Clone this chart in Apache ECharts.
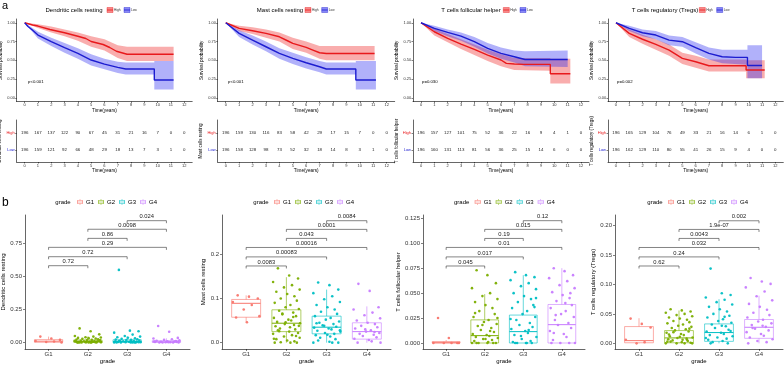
<!DOCTYPE html>
<html>
<head>
<meta charset="utf-8">
<script src="https://cdn.jsdelivr.net/npm/echarts@6/dist/echarts.min.js"></script>
</head>
<body style="margin:0; background:#fff">
<div id="main" style="width:784px;height:365px"></div>
<script>
// ---------- panel a : survival curves ----------
var kmNames = ['Dendritic cells resting', 'Mast cells resting', 'T cells follicular helper', 'T cells regulatory (Tregs)'];
var kmP = ['p<0.001', 'p<0.001', 'p=0.030', 'p=0.002'];
var yearTicks = [0, 1, 2, 3, 4, 5, 6, 7, 8, 9, 10, 11, 12];
var survTicks = [0, 0.25, 0.5, 0.75, 1];

// [time, survival]
var kmHigh = [
  [[0,1],[0.6,0.97],[1,0.956],[1.9,0.91],[3,0.867],[4,0.82],[4.6,0.79],[5,0.75],[5.9,0.71],[6.4,0.67],[6.9,0.62],[7.7,0.58],[11.2,0.58]],
  [[0,1],[1,0.925],[2,0.893],[3,0.858],[4,0.813],[4.6,0.76],[5,0.725],[6,0.672],[6.5,0.636],[7,0.6],[7.5,0.59],[11.1,0.59]],
  [[0,1],[1,0.88],[2,0.791],[3,0.716],[4,0.644],[5,0.569],[6,0.503],[6.4,0.459],[7,0.45],[7.7,0.445],[9.7,0.445],[9.7,0.32],[11.2,0.32]],
  [[0,1],[1,0.858],[2,0.78],[3,0.711],[4,0.636],[5,0.525],[6,0.48],[7,0.427],[9.8,0.427],[9.8,0.37],[11.2,0.37]]
];
var kmLow = [
  [[0,1],[0.25,0.95],[0.6,0.9],[1,0.836],[2,0.747],[3,0.667],[4,0.592],[5,0.503],[6,0.449],[7,0.405],[7.6,0.383],[9.75,0.383],[9.75,0.236],[11.2,0.236]],
  [[0,1],[1,0.858],[2,0.769],[3,0.68],[4,0.592],[5,0.525],[6,0.467],[7,0.413],[7.5,0.383],[9.7,0.383],[9.7,0.236],[11.2,0.236]],
  [[0,1],[1,0.925],[2,0.871],[3,0.822],[4,0.747],[5,0.658],[6,0.592],[7,0.547],[7.8,0.51],[11,0.51]],
  [[0,1],[1,0.925],[2,0.867],[3,0.836],[4,0.769],[5,0.747],[6,0.667],[7,0.592],[8,0.547],[9,0.538],[9.9,0.538],[9.9,0.43],[11,0.43]]
];
// [time, lower, upper]
var bandHigh = [
  [[0,1,1],[1,0.93,0.98],[2,0.87,0.95],[3,0.82,0.91],[4,0.76,0.87],[5,0.68,0.82],[6,0.63,0.78],[7,0.53,0.7],[7.7,0.49,0.68],[11.2,0.49,0.68]],
  [[0,1,1],[1,0.89,0.96],[2,0.85,0.94],[3,0.8,0.91],[4,0.75,0.87],[5,0.65,0.8],[6,0.6,0.75],[7,0.52,0.69],[7.5,0.5,0.69],[11.1,0.5,0.69]],
  [[0,1,1],[1,0.83,0.92],[2,0.74,0.85],[3,0.65,0.78],[4,0.57,0.71],[5,0.49,0.64],[6,0.42,0.58],[7,0.37,0.53],[9.7,0.36,0.53],[9.7,0.19,0.52],[11.2,0.19,0.52]],
  [[0,1,1],[1,0.81,0.91],[2,0.72,0.84],[3,0.64,0.78],[4,0.56,0.71],[5,0.45,0.6],[6,0.4,0.56],[7,0.35,0.51],[9.8,0.35,0.51],[9.8,0.26,0.5],[11.2,0.26,0.5]]
];
var bandLow = [
  [[0,1,1],[1,0.79,0.88],[2,0.69,0.8],[3,0.6,0.73],[4,0.52,0.66],[5,0.43,0.58],[6,0.38,0.52],[7,0.33,0.48],[7.6,0.31,0.47],[9.75,0.31,0.47],[9.75,0.11,0.49],[11.2,0.11,0.49]],
  [[0,1,1],[1,0.81,0.9],[2,0.71,0.83],[3,0.62,0.75],[4,0.52,0.66],[5,0.45,0.6],[6,0.39,0.54],[7,0.34,0.49],[7.5,0.31,0.47],[9.7,0.31,0.47],[9.7,0.11,0.49],[11.2,0.11,0.49]],
  [[0,1,1],[1,0.89,0.96],[2,0.82,0.91],[3,0.76,0.87],[4,0.68,0.81],[5,0.59,0.73],[6,0.52,0.67],[7,0.47,0.63],[7.8,0.42,0.62],[11,0.41,0.63]],
  [[0,1,1],[1,0.89,0.96],[2,0.82,0.91],[3,0.78,0.89],[4,0.7,0.83],[5,0.68,0.81],[6,0.59,0.74],[7,0.51,0.67],[8,0.46,0.64],[9.9,0.44,0.64],[9.9,0.26,0.7],[11,0.26,0.7]]
];
// numbers at risk, years 0..12
var riskHigh = [
  [196,167,137,122,90,67,45,31,21,16,7,0,0],
  [196,159,130,116,83,58,42,29,17,15,7,0,0],
  [196,157,127,101,75,52,36,22,16,9,4,1,0],
  [196,165,129,104,76,49,33,21,16,14,6,1,0]
];
var riskLow = [
  [196,159,121,92,66,48,29,18,13,7,3,1,0],
  [196,158,128,98,73,52,32,18,14,8,3,1,0],
  [196,160,131,113,81,56,36,25,15,14,6,0,0],
  [196,162,129,110,80,55,41,26,15,9,4,0,0]
];

// ---------- panel b : boxplots by grade ----------
var gradeNames = ['G1', 'G2', 'G3', 'G4'];
// [min, q1, median, q3, max] per grade
var boxStats = [
  [[0,0.002,0.01,0.022,0.045],[0,0.002,0.007,0.02,0.045],[0,0.002,0.007,0.021,0.048],[0,0.001,0.005,0.014,0.032]],
  [[0.046,0.0575,0.089,0.0977,0.107],[0,0.025,0.044,0.0743,0.148],[0,0.02,0.035,0.06,0.12],[0,0.008,0.025,0.045,0.082]],
  [[0,0,0.0003,0.0015,0.003],[0,0,0.0074,0.0232,0.049],[0,0,0.0114,0.028,0.068],[0,0,0.0184,0.0386,0.075]],
  [[0,0.001,0.0046,0.0285,0.0427],[0,0.001,0.0092,0.0217,0.0558],[0,0.0034,0.0183,0.033,0.075],[0,0.0085,0.0273,0.0405,0.081]]
];
var dcPoints = [
  [0.045,0.03,0.02,0.012,0.008,0.004,0],
  [0.107,0.085,0.062,0.05,0.045,0.04,0.038,0.035,0.033,0.03,0.028,0.025,0.022,0.02,0.018,0.016,0.014,0.012,0.01,0.009,0.008,0.007,0.006,0.005,0.004,0.003,0.002,0.001,0,0,0,0,0,0.015,0.011,0.006,0.003,0.002,0.001,0],
  [0.55,0.09,0.085,0.075,0.06,0.05,0.045,0.04,0.036,0.032,0.028,0.025,0.022,0.02,0.018,0.015,0.013,0.011,0.009,0.008,0.007,0.006,0.005,0.004,0.003,0.002,0.001,0,0,0,0,0.012,0.006,0.003,0.001,0],
  [0.125,0.082,0.035,0.03,0.025,0.02,0.016,0.013,0.01,0.008,0.006,0.005,0.004,0.003,0.002,0.001,0,0,0,0.012,0.007,0.003]
];
var mastPoints = [
  [0.107,0.104,0.1,0.092,0.085,0.075,0.06,0.057,0.046],
  [0.168,0.152,0.145,0.137,0.13,0.125,0.12,0.115,0.11,0.105,0.1,0.095,0.09,0.085,0.08,0.076,0.072,0.068,0.064,0.06,0.056,0.052,0.05,0.047,0.044,0.042,0.04,0.037,0.035,0.032,0.03,0.028,0.025,0.022,0.02,0.017,0.014,0.011,0.008,0.005,0.003,0.001,0,0,0,0.046,0.038,0.026,0.058,0.066,0.015,0.009],
  [0.136,0.13,0.12,0.112,0.105,0.098,0.092,0.085,0.08,0.075,0.07,0.065,0.06,0.056,0.052,0.048,0.045,0.042,0.039,0.036,0.034,0.032,0.03,0.027,0.025,0.022,0.02,0.017,0.014,0.011,0.008,0.005,0.002,0,0,0,0.038,0.028,0.044,0.018],
  [0.133,0.117,0.08,0.075,0.068,0.062,0.055,0.05,0.045,0.042,0.038,0.035,0.032,0.028,0.025,0.022,0.02,0.018,0.015,0.012,0.009,0.006,0.003,0,0,0.03,0.024]
];
var tfhPoints = [
  [0.025,0.005,0,0,0,0,0],
  [0.073,0.068,0.06,0.055,0.05,0.047,0.044,0.041,0.038,0.035,0.032,0.029,0.026,0.023,0.021,0.019,0.017,0.015,0.013,0.011,0.009,0.008,0.007,0.006,0.005,0.004,0.003,0.002,0.001,0,0,0,0,0,0,0.012,0.018,0.025,0.03,0.004],
  [0.071,0.068,0.066,0.063,0.06,0.057,0.054,0.05,0.047,0.044,0.041,0.038,0.035,0.032,0.029,0.026,0.023,0.02,0.018,0.016,0.014,0.012,0.01,0.008,0.006,0.004,0.002,0.001,0,0,0,0,0,0.036,0.024,0.013,0.007,0.045],
  [0.075,0.072,0.068,0.065,0.062,0.058,0.055,0.051,0.048,0.045,0.042,0.038,0.035,0.032,0.029,0.026,0.023,0.02,0.018,0.015,0.012,0.009,0.006,0.003,0,0,0,0,0.04,0.028,0.05,0.01]
];
var tregPoints = [
  [0.042,0.033,0.027,0.006,0.002,0],
  [0.058,0.056,0.054,0.052,0.05,0.048,0.046,0.044,0.042,0.04,0.038,0.036,0.034,0.032,0.03,0.028,0.026,0.024,0.022,0.02,0.018,0.016,0.014,0.012,0.01,0.009,0.008,0.007,0.006,0.005,0.004,0.003,0.002,0.001,0,0,0,0,0.015,0.011,0.006,0.019,0.025,0.003],
  [0.127,0.085,0.082,0.078,0.074,0.07,0.066,0.062,0.058,0.054,0.05,0.047,0.044,0.041,0.038,0.035,0.032,0.029,0.026,0.023,0.02,0.018,0.016,0.014,0.012,0.01,0.008,0.006,0.004,0.002,0,0,0.03,0.021,0.009,0.045],
  [0.111,0.105,0.101,0.095,0.088,0.08,0.073,0.067,0.062,0.057,0.052,0.048,0.044,0.04,0.037,0.034,0.031,0.028,0.025,0.022,0.019,0.016,0.013,0.01,0.007,0.004,0.002,0,0.03,0.026]
];
var boxPoints = [dcPoints, mastPoints, tfhPoints, tregPoints];
// horizontal jitter of the dots (grade units)
var jitter = [-0.21,0.07,0.29,-0.33,0.14,-0.06,0.33,-0.25,0.02,0.2,-0.14,0.26,-0.29,0.1,-0.02,0.31,-0.18,0.17,-0.1,0.24,-0.31,0.05,0.12,-0.23,0.34,-0.04,0.19,-0.27,0.09,-0.16,0.22];

// pairwise comparisons, top to bottom
var comparePairs = [[3,4],[2,4],[2,3],[1,4],[1,3],[1,2]];
var compareY = [
  [0.923,0.858,0.789,0.721,0.65,0.582],
  [0.2757,0.2561,0.2357,0.2152,0.1939,0.1734],
  [0.1226,0.1139,0.1048,0.0958,0.0863,0.0772],
  [0.2082,0.1935,0.1782,0.1628,0.1468,0.1314]
];
var compareP = [
  ['0.024','0.0098','0.86','0.29','0.72','0.72'],
  ['0.0084','0.0001','0.043','0.00016','0.00083','0.0083'],
  ['0.12','0.015','0.19','0.01','0.017','0.045'],
  ['0.002','1.9e-07','0.0043','0.032','0.24','0.62']
];
var boxYTicks = [[0,0.25,0.5,0.75],[0,0.1,0.2],[0,0.025,0.05,0.075,0.1,0.125],[0,0.05,0.1,0.15,0.2]];
var boxYDigits = [2, 1, 3, 2];
var boxYMin = [-0.049, -0.0143, -0.006, -0.0096];
var boxYMax = [0.966, 0.2886, 0.1283, 0.218];

// ---------- layout ----------
var FONT = '"Liberation Sans", Arial, sans-serif';
var RED = '#e8191c', BLUE = '#1c1cd0';
var GRADE_COLORS = ['#F8766D', '#7CAE00', '#00BFC4', '#C77CFF'];
var kmLeft = [16.7, 217.7, 413, 608];
var kmWidth = [175.5, 177, 176, 175.3];
var kmTitleX = [74, 280, 471, 665];
var kmKeyX = [107, 305, 503.3, 699.3];
var kmKeyX2 = [124, 321.7, 520, 716.7];
var kmPX = [28, 228, 422, 617];
var bxLeft = [25, 222, 423, 615];
var bxWidth = [165, 169, 162, 168];
var bxNameGap = [16, 12, 21, 17];
var bxLegendX = [77, 274, 474.7, 668];
var bxGradeX = [63, 261, 461.7, 655];
var KEY_PATH = 'path://M0,2H10V8H0Z M1,3V7H9V3Z M1,4.6H9V5.4H1Z M4.6,0H5.4V2H4.6Z M4.6,8H5.4V10H4.6Z';

var grid = [], xAxis = [], yAxis = [], series = [], legend = [], graphic = [];

function axisBase(extra) {
  var a = {
    axisLine: { onZero: false, lineStyle: { color: '#000', width: 0.6 } },
    axisTick: { length: 1.8, lineStyle: { color: '#000', width: 0.5 } },
    axisLabel: { color: '#333', fontFamily: FONT },
    splitLine: { show: false },
    nameTextStyle: { color: '#000', fontFamily: FONT },
    nameLocation: 'middle'
  };
  for (var k in extra) {
    if (a[k] && typeof a[k] === 'object' && !Array.isArray(extra[k])) {
      a[k] = Object.assign({}, a[k], extra[k]);
    } else {
      a[k] = extra[k];
    }
  }
  return a;
}
function addGrid(g) {
  grid.push(Object.assign({ outerBoundsMode: 'none', containLabel: false }, g));
  return grid.length - 1;
}
function text(str, x, y, size, color, align) {
  graphic.push({
    type: 'text', x: x, y: y, silent: true,
    style: { text: str, fontSize: size, fontFamily: FONT, fill: color || '#000', align: align || 'left', verticalAlign: 'middle' }
  });
}

function bandRenderer(rows, fill) {
  return function (params, api) {
    if (params.dataIndex !== 0) return null;
    var top = rows.map(function (r) { return api.coord([r[0], r[2]]); });
    var bottom = rows.map(function (r) { return api.coord([r[0], r[1]]); }).reverse();
    return { type: 'polygon', shape: { points: top.concat(bottom) }, style: { fill: fill } };
  };
}

function renderRisk(params, api) {
  var c = api.coord([api.value(0), api.value(1)]);
  return {
    type: 'text', x: c[0], y: c[1],
    style: { text: String(api.value(2)), fontSize: 4.4, fontFamily: FONT, fill: '#222', align: 'center', verticalAlign: 'middle' }
  };
}

function renderBox(params, api) {
  var x = api.value(0);
  var lo = api.coord([x, api.value(1)]), q1 = api.coord([x, api.value(2)]);
  var md = api.coord([x, api.value(3)]), q3 = api.coord([x, api.value(4)]);
  var hi = api.coord([x, api.value(5)]);
  var half = api.size([0.36, 0])[0];
  var col = api.visual('color');
  return {
    type: 'group', children: [
      { type: 'line', shape: { x1: lo[0], y1: lo[1], x2: q1[0], y2: q1[1] }, style: { stroke: col, lineWidth: 0.6 } },
      { type: 'line', shape: { x1: q3[0], y1: q3[1], x2: hi[0], y2: hi[1] }, style: { stroke: col, lineWidth: 0.6 } },
      { type: 'rect', shape: { x: q3[0] - half, y: q3[1], width: half * 2, height: Math.max(q1[1] - q3[1], 0.6) }, style: { fill: 'none', stroke: col, lineWidth: 0.6 } },
      { type: 'line', shape: { x1: md[0] - half, y1: md[1], x2: md[0] + half, y2: md[1] }, style: { stroke: col, lineWidth: 1 } }
    ]
  };
}

function bracketRenderer(labels) {
  return function (params, api) {
    var a = api.coord([api.value(0), api.value(2)]);
    var b = api.coord([api.value(1), api.value(2)]);
    return {
      type: 'group', children: [
        { type: 'polyline', shape: { points: [[a[0], a[1] + 2.5], [a[0], a[1]], [b[0], b[1]], [b[0], b[1] + 2.5]] }, style: { stroke: '#333', lineWidth: 0.6, fill: null } },
        { type: 'text', x: (a[0] + b[0]) / 2, y: a[1] - 1, style: { text: labels[params.dataIndex], fontSize: 5.8, fontFamily: FONT, fill: '#222', align: 'center', verticalAlign: 'bottom' } }
      ]
    };
  };
}

text('a', 2, 6, 11, '#000');
text('b', 2, 203, 12, '#000');

for (var i = 0; i < 4; i++) {
  // survival plot
  var g = addGrid({ left: kmLeft[i], top: 19, width: kmWidth[i], height: 82.5 });
  xAxis.push(axisBase({
    gridIndex: g, type: 'value', min: -0.6, max: 12.6,
    axisTick: { customValues: yearTicks, length: 1.5 },
    axisLabel: { customValues: yearTicks, fontSize: 4, margin: 1.6 },
    name: 'Time(years)', nameGap: 4.6, nameTextStyle: { fontSize: 4.7 }
  }));
  yAxis.push(axisBase({
    gridIndex: g, type: 'value', min: -0.05, max: 1.05,
    axisTick: { customValues: survTicks, length: 1.5 },
    axisLabel: { customValues: survTicks, fontSize: 4, margin: 1.7, formatter: function (v) { return v.toFixed(2); } },
    name: 'Survival probability', nameGap: 9.4, nameTextStyle: { fontSize: 4.7 }
  }));
  series.push({ type: 'custom', xAxisIndex: g, yAxisIndex: g, data: bandHigh[i], renderItem: bandRenderer(bandHigh[i], 'rgba(240,40,40,0.38)'), z: 1, silent: true });
  series.push({ type: 'custom', xAxisIndex: g, yAxisIndex: g, data: bandLow[i], renderItem: bandRenderer(bandLow[i], 'rgba(40,40,240,0.36)'), z: 1, silent: true });
  series.push({ type: 'line', name: 'High', xAxisIndex: g, yAxisIndex: g, data: kmHigh[i], symbol: 'none', lineStyle: { color: RED, width: 1.4 }, itemStyle: { color: RED }, z: 3 });
  series.push({ type: 'line', name: 'Low', xAxisIndex: g, yAxisIndex: g, data: kmLow[i], symbol: 'none', lineStyle: { color: BLUE, width: 1.4 }, itemStyle: { color: BLUE }, z: 3 });

  text(kmNames[i], kmTitleX[i], 10, 6, '#000', 'center');
  graphic.push({ type: 'rect', shape: { x: kmKeyX[i], y: 7.5, width: 6, height: 5 }, style: { fill: 'rgba(240,40,40,0.55)', stroke: RED, lineWidth: 0.4 }, silent: true });
  graphic.push({ type: 'line', shape: { x1: kmKeyX[i], y1: 10, x2: kmKeyX[i] + 6, y2: 10 }, style: { stroke: RED, lineWidth: 0.8 }, silent: true });
  text('High', kmKeyX[i] + 7, 10, 3.2, '#333');
  graphic.push({ type: 'rect', shape: { x: kmKeyX2[i], y: 7.5, width: 6, height: 5 }, style: { fill: 'rgba(40,40,240,0.55)', stroke: BLUE, lineWidth: 0.4 }, silent: true });
  graphic.push({ type: 'line', shape: { x1: kmKeyX2[i], y1: 10, x2: kmKeyX2[i] + 6, y2: 10 }, style: { stroke: BLUE, lineWidth: 0.8 }, silent: true });
  text('Low', kmKeyX2[i] + 7, 10, 3.2, '#333');
  text(kmP[i], kmPX[i], 81.5, 4.3, '#000');

  // risk table
  var r = addGrid({ left: kmLeft[i], top: 120, width: kmWidth[i], height: 42 });
  xAxis.push(axisBase({
    gridIndex: r, type: 'value', min: -0.6, max: 12.6,
    axisTick: { customValues: yearTicks, length: 1.5 },
    axisLabel: { customValues: yearTicks, fontSize: 4, margin: 1.6 },
    name: 'Time(years)', nameGap: 5.5, nameTextStyle: { fontSize: 4.7 }
  }));
  yAxis.push(axisBase({
    gridIndex: r, type: 'value', min: -0.706, max: 1.765,
    axisTick: { customValues: [0, 1], length: 1.5 },
    axisLabel: {
      customValues: [0, 1], fontSize: 4, margin: 2,
      formatter: function (v) { return v === 1 ? '{h|High}' : '{l|Low}'; },
      rich: { h: { color: RED, fontSize: 4, fontFamily: FONT }, l: { color: BLUE, fontSize: 4, fontFamily: FONT } }
    },
    name: kmNames[i], nameGap: 11, nameTextStyle: { fontSize: 4.5 }
  }));
  var riskRows = yearTicks.map(function (t, k) { return [t, 1, riskHigh[i][k]]; })
    .concat(yearTicks.map(function (t, k) { return [t, 0, riskLow[i][k]]; }));
  series.push({ type: 'custom', xAxisIndex: r, yAxisIndex: r, data: riskRows, renderItem: renderRisk, silent: true });

  // boxplot by grade
  var b = addGrid({ left: bxLeft[i], top: 215, width: bxWidth[i], height: 134 });
  (function (digits) {
    xAxis.push(axisBase({
      gridIndex: b, type: 'value', min: 0.4, max: 4.6,
      axisTick: { customValues: [1, 2, 3, 4], length: 2 },
      axisLabel: { customValues: [1, 2, 3, 4], fontSize: 6, margin: 2.5, formatter: function (v) { return gradeNames[v - 1]; } },
      name: 'grade', nameGap: 8.5, nameTextStyle: { fontSize: 6 }
    }));
    yAxis.push(axisBase({
      gridIndex: b, type: 'value', min: boxYMin[i], max: boxYMax[i],
      axisTick: { customValues: boxYTicks[i], length: 2 },
      axisLabel: { customValues: boxYTicks[i], fontSize: 6, margin: 3, formatter: function (v) { return v.toFixed(digits); } },
      name: kmNames[i], nameGap: bxNameGap[i], nameTextStyle: { fontSize: 6 }
    }));
  })(boxYDigits[i]);
  series.push({
    type: 'custom', xAxisIndex: b, yAxisIndex: b, renderItem: renderBox, encode: { x: 0, y: [1, 2, 3, 4, 5] }, z: 2, silent: true,
    data: boxStats[i].map(function (s, k) { return { value: [k + 1].concat(s), itemStyle: { color: GRADE_COLORS[k] } }; })
  });
  for (var k = 0; k < 4; k++) {
    (function (k) {
      series.push({
        type: 'scatter', name: gradeNames[k], xAxisIndex: b, yAxisIndex: b, z: 4, silent: true,
        symbolSize: 2.6, itemStyle: { color: GRADE_COLORS[k], opacity: 0.95 },
        data: boxPoints[i][k].map(function (y, j) { return [k + 1 + jitter[j % jitter.length], y]; })
      });
    })(k);
  }
  series.push({
    type: 'custom', xAxisIndex: b, yAxisIndex: b, renderItem: bracketRenderer(compareP[i]), encode: { x: [0, 1], y: 2 }, z: 5, silent: true,
    data: compareY[i].map(function (y, k) { return [comparePairs[k][0], comparePairs[k][1], y]; })
  });
  text('grade', bxGradeX[i], 202, 6, '#000', 'center');
  legend.push({
    left: bxLegendX[i], top: 199, orient: 'horizontal', itemWidth: 6, itemHeight: 6, itemGap: 4, selectedMode: false,
    textStyle: { fontSize: 6, fontFamily: FONT, color: '#000', padding: [0, 0, 0, -2] }, padding: 0,
    data: gradeNames.map(function (n, k) { return { name: n, icon: KEY_PATH, itemStyle: { color: GRADE_COLORS[k] } }; })
  });
}

var chart = echarts.init(document.getElementById('main'), null, { renderer: 'canvas' });
chart.setOption({
  backgroundColor: '#fff',
  animation: false,
  textStyle: { fontFamily: FONT },
  grid: grid,
  xAxis: xAxis,
  yAxis: yAxis,
  legend: legend,
  series: series,
  graphic: graphic
});
</script>
</body>
</html>
